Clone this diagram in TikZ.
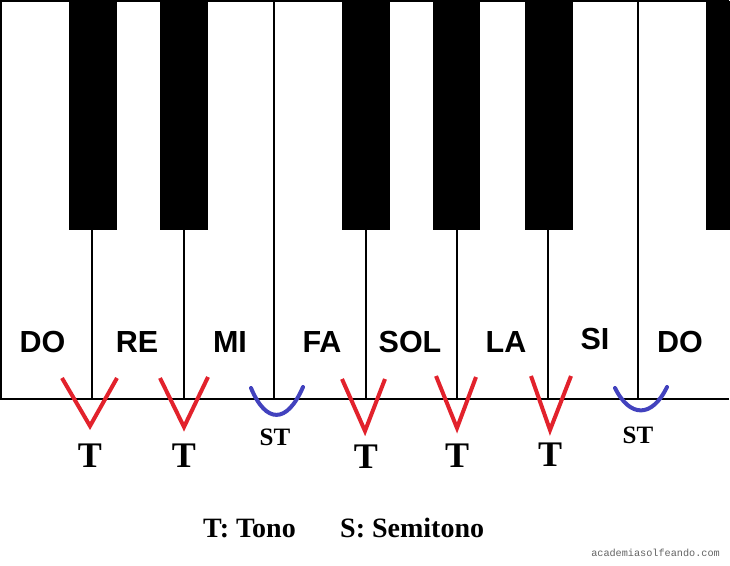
\documentclass[tikz,border=0pt]{standalone}
\usepackage{fontspec}
\setmainfont{Liberation Serif}
\newfontfamily\keyfont{Liberation Sans}
\newfontfamily\wmfont{Liberation Mono}
\definecolor{vred}{RGB}{226,34,44}
\definecolor{vblue}{RGB}{66,66,190}
\definecolor{wmgrey}{RGB}{100,100,100}
\begin{document}
\begin{tikzpicture}[x=1pt,y=-1pt,
  keyline/.style={line width=1.7pt},
  blackkey/.style={fill=black,draw=black,line width=1pt},
  notename/.style={font=\keyfont\bfseries\fontsize{30.5}{30.5}\selectfont,anchor=base,inner sep=0pt},
  tmark/.style={draw=vred,line width=4pt,line join=miter},
  stmark/.style={draw=vblue,line width=4pt,line cap=round},
  tlabel/.style={font=\bfseries\fontsize{36}{36}\selectfont,anchor=base,inner sep=0pt},
  stlabel/.style={font=\bfseries\fontsize{25}{25}\selectfont,anchor=base,inner sep=0pt},
  legend/.style={font=\bfseries\fontsize{28}{28}\selectfont,anchor=base west,inner sep=0pt},
  wm/.style={font=\wmfont\fontsize{10.2}{10.2}\selectfont,text=wmgrey,anchor=base east,inner sep=0pt}]
\useasboundingbox (0,0) rectangle (730,565);
\fill[white] (0,0) rectangle (730,565);
% keyboard outline
\draw[keyline] (729,399) -- (1,399) -- (1,1) -- (729,1);
% full-height separators
\draw[keyline] (274,1) -- (274,399);
\draw[keyline] (638,1) -- (638,399);
% short separators
\foreach \x in {92,184,366,457,548}
  \draw[keyline] (\x,229) -- (\x,399);
% black keys
\foreach \a/\b in {69/116,160/207,342/389,433/479,525/572,706/730}
  \draw[blackkey] (\a,1) rectangle (\b,229);
% note names
\node[notename] (do1) at (42.5,352) {DO};
\node[notename] (re) at (137,352) {RE};
\node[notename] (mi) at (230,352) {MI};
\node[notename] (fa) at (322,352) {FA};
\node[notename] (sol) at (410,352) {SOL};
\node[notename] (la) at (506,352) {LA};
\node[notename] (si) at (595,349) {SI};
\node[notename] (do2) at (680,352) {DO};
% tone marks
\draw[tmark] (62,378) -- (90,426) -- (117,378);
\draw[tmark] (160,378) -- (184,427) -- (208,377);
\draw[tmark] (342,379) -- (365,431) -- (385,379);
\draw[tmark] (436,376) -- (457,428) -- (476,377);
\draw[tmark] (531,376) -- (550,430) -- (571,376);
% semitone marks
\draw[stmark] (251,388) .. controls (266,424) and (287,424) .. (303,387);
\draw[stmark] (615,388) .. controls (630,418) and (652,418) .. (667,387);
% labels
\node[tlabel] (t1) at (90,467) {T};
\node[tlabel] (t2) at (184,467) {T};
\node[stlabel] (st1) at (275,445) {ST};
\node[tlabel] (t3) at (366,468) {T};
\node[tlabel] (t4) at (457,467) {T};
\node[tlabel] (t5) at (550,466) {T};
\node[stlabel] (st2) at (638,443) {ST};
% legend
\node[legend] (lgt) at (203,537) {T: Tono};
\node[legend] (lgs) at (340,537) {S: Semitono};
\node[wm] (wmark) at (720,556) {academiasolfeando.com};
\end{tikzpicture}
\end{document}
